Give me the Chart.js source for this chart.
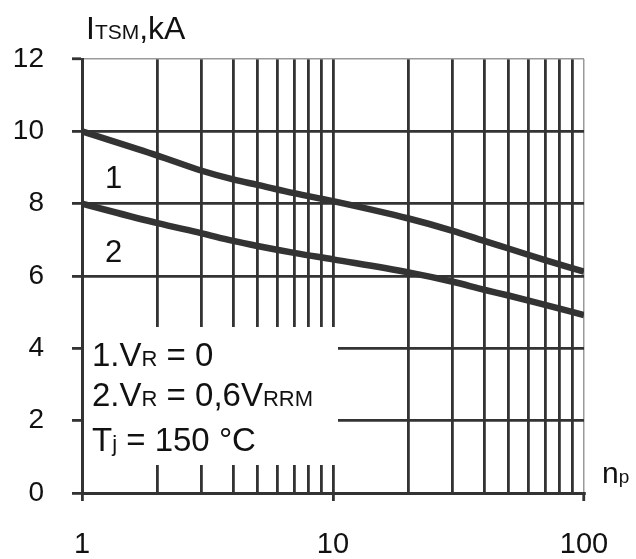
<!DOCTYPE html>
<html>
<head>
<meta charset="utf-8">
<script src="https://cdn.jsdelivr.net/npm/chart.js@4/dist/chart.umd.min.js"></script>
<style>
  html, body { margin: 0; padding: 0; background: #fff; }
  #wrap { width: 636px; height: 559px; }
</style>
</head>
<body>
<div id="wrap"><canvas id="chart"></canvas></div>
<script>
// number of pulses (log axis) and surge current, kA
const nPulses = [1, 2, 3, 4, 5, 7, 10, 20, 30, 40, 50, 70, 100];
const itsmVr0 = [10.0, 9.33, 8.91, 8.67, 8.52, 8.29, 8.07, 7.59, 7.25, 6.97, 6.76, 6.44, 6.12];
const itsmVr06 = [8.0, 7.46, 7.18, 6.97, 6.83, 6.64, 6.46, 6.10, 5.84, 5.62, 5.46, 5.2, 4.92];

const xGridValues = [1, 2, 3, 4, 5, 6, 7, 8, 9, 10, 20, 30, 40, 50, 60, 70, 80, 90, 100];
const xTickLabels = [1, 10, 100];
const yTickLabels = [0, 2, 4, 6, 8, 10, 12];

const FONT = "'Liberation Sans', Arial, sans-serif";
const INK = '#333';

function toPoints(xs, ys) {
    return xs.map((x, i) => ({ x: x, y: ys[i] }));
}

// draw text made of parts, some of them small (subscripts)
function richText(ctx, parts, x, y) {
    let cx = x;
    parts.forEach(([txt, size]) => {
        ctx.font = size + 'px ' + FONT;
        ctx.fillText(txt, cx, y);
        cx += ctx.measureText(txt).width;
    });
}

const notes = {
    id: 'notes',
    beforeDatasetsDraw(chart) {
        // white box for the conditions, it hides the grid
        const ctx = chart.ctx;
        ctx.save();
        ctx.fillStyle = '#fff';
        ctx.fillRect(84, 327, 254, 138);
        ctx.restore();
    },
    afterDraw(chart) {
        const ctx = chart.ctx;
        const xs = chart.scales.x, ys = chart.scales.y;
        ctx.save();
        ctx.fillStyle = '#111';
        ctx.textBaseline = 'alphabetic';
        ctx.textAlign = 'left';

        richText(ctx, [['I', 32], ['TSM', 21], [',kA', 32]], 86, 39);
        richText(ctx, [['n', 30], ['p', 19]], 602, 483);

        richText(ctx, [['1', 31]], xs.getPixelForValue(1.33) - 8, ys.getPixelForValue(8.71) + 10);
        richText(ctx, [['2', 31]], xs.getPixelForValue(1.33) - 8, ys.getPixelForValue(6.66) + 10);

        richText(ctx, [['1.V', 33], ['R', 22], [' = 0', 33]], 92, 366);
        richText(ctx, [['2.V', 33], ['R', 22], [' = 0,6V', 33], ['RRM', 22]], 92, 406);
        richText(ctx, [['T', 33], ['j', 22], [' = 150 °C', 33]], 92, 451);
        ctx.restore();
    }
};

new Chart(document.getElementById('chart'), {
    type: 'line',
    data: {
        datasets: [
            { label: '1', data: toPoints(nPulses, itsmVr0) },
            { label: '2', data: toPoints(nPulses, itsmVr06) }
        ]
    },
    options: {
        responsive: true,
        maintainAspectRatio: false,
        animation: false,
        layout: { padding: { left: 0, top: 59, right: 52, bottom: 0 } },
        elements: {
            line: { borderColor: INK, borderWidth: 6.5, cubicInterpolationMode: 'monotone' },
            point: { radius: 0 }
        },
        plugins: {
            legend: { display: false },
            tooltip: { enabled: false }
        },
        scales: {
            x: {
                type: 'logarithmic',
                min: 1,
                max: 100,
                afterBuildTicks: (s) => {
                    s.ticks = xGridValues.map(v => ({ value: v, major: xTickLabels.includes(v) }));
                },
                afterFit: (s) => { s.height = 66; },
                grid: {
                    color: (c) => c.tick && c.tick.value === 100 ? '#9a9a9a' : INK,
                    lineWidth: (c) => c.tick && c.tick.value === 100 ? 1.5 : 2.8,
                    tickColor: (c) => c.tick && xTickLabels.includes(c.tick.value) ? INK : 'rgba(0,0,0,0)',
                    tickWidth: 2.8,
                    tickLength: 8
                },
                border: { color: INK, width: 3 },
                ticks: {
                    autoSkip: false,
                    maxRotation: 0,
                    padding: 27,
                    color: '#111',
                    font: { family: FONT, size: 29 },
                    callback: (v) => xTickLabels.includes(v) ? String(v) : ''
                }
            },
            y: {
                min: 0,
                max: 12,
                afterBuildTicks: (s) => {
                    s.ticks = yTickLabels.map(v => ({ value: v }));
                },
                afterFit: (s) => { s.width = 82; },
                grid: {
                    color: (c) => c.tick && c.tick.value === 12 ? '#9a9a9a' : INK,
                    lineWidth: (c) => c.tick && c.tick.value === 12 ? 1.5 : 2.8,
                    tickColor: INK,
                    tickWidth: 2.8,
                    tickLength: 10
                },
                border: { color: INK, width: 3 },
                ticks: {
                    padding: 28,
                    color: '#111',
                    font: { family: FONT, size: 28 }
                }
            }
        }
    },
    plugins: [notes]
});
</script>
</body>
</html>
